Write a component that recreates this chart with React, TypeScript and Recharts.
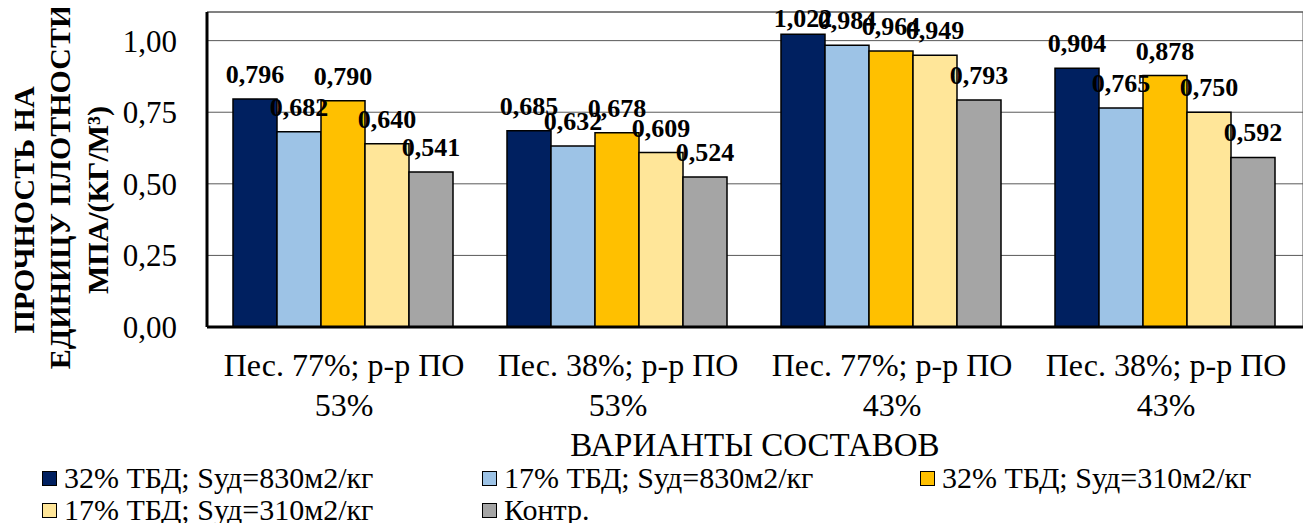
import { Bar, BarChart, CartesianGrid, LabelList, ReferenceArea, XAxis, YAxis } from 'recharts'

const categories = ['Пес. 77%; р-р ПО\n53%', 'Пес. 38%; р-р ПО\n53%', 'Пес. 77%; р-р ПО\n43%', 'Пес. 38%; р-р ПО\n43%']
const seriesNames = ['32% ТБД; Sуд=830м2/кг', '17% ТБД; Sуд=830м2/кг', '32% ТБД; Sуд=310м2/кг', '17% ТБД; Sуд=310м2/кг', 'Контр.']
const seriesColors = ['#002060', '#9DC3E6', '#FFC000', '#FFE699', '#A5A5A5']
const tbd32s830 = [0.796, 0.685, 1.022, 0.904]
const tbd17s830 = [0.682, 0.632, 0.984, 0.765]
const tbd32s310 = [0.79, 0.678, 0.964, 0.878]
const tbd17s310 = [0.64, 0.609, 0.949, 0.75]
const control = [0.541, 0.524, 0.793, 0.592]
const yTicks = [0, 0.25, 0.5, 0.75, 1]
const yTitle = ['ПРОЧНОСТЬ НА', 'ЕДИНИЦУ ПЛОТНОСТИ', 'МПА/(КГ/М³)']
const xTitle = 'ВАРИАНТЫ СОСТАВОВ'

const series = [tbd32s830, tbd17s830, tbd32s310, tbd17s310, control]
const data = categories.map((name, i) => {
  const row: Record<string, string | number> = { name }
  series.forEach((values, k) => { row['s' + k] = values[i] })
  return row
})

const FONT = '"Times New Roman", Tinos, "Liberation Serif", "Noto Serif", "DejaVu Serif", serif'
const fmt = (v: number, d: number) => v.toFixed(d).replace('.', ',')

function CategoryTick({ x, y, payload }: any) {
  const lines = String(payload.value).split('\n')
  return (
    <g>
      {lines.map((line, i) => (
        <text key={i} x={x} y={y + 38 + i * 40} textAnchor="middle" dominantBaseline="central" style={{ fontFamily: FONT, fontSize: 32 }} fill="#000">{line}</text>
      ))}
    </g>
  )
}

function ValueLabel({ x, y, width, value }: any) {
  // keep the top labels inside the chart, as the reference does
  const base = Math.max(y - 16, 27)
  return <text x={x + width / 2} y={base} textAnchor="middle" style={{ fontFamily: FONT, fontWeight: 'bold', fontSize: 26 }} fill="#000">{fmt(Number(value), 3)}</text>
}

function YTitle() {
  const xs = [23, 59, 97]
  const cys = [210, 187, 200]
  return (
    <g>
      {yTitle.map((line, i) => (
        <text key={i} x={xs[i]} y={cys[i]} transform={`rotate(-90, ${xs[i]}, ${cys[i]})`} textAnchor="middle" dominantBaseline="central" style={{ fontFamily: FONT, fontWeight: 'bold', fontSize: 30 }} fill="#000">{line}</text>
      ))}
    </g>
  )
}

export default function App() {
  return (
    <div style={{ position: 'relative', width: 1311, height: 531, margin: -8, background: '#fff', fontFamily: FONT }}>
      <BarChart width={1311} height={531} data={data} margin={{ top: 12, right: 8, bottom: 0, left: 0 }} barCategoryGap={26} barGap={0}>
        <CartesianGrid vertical={false} stroke="#595959" strokeWidth={1} />
        <ReferenceArea y1={0} y2={1.1} fill="none" stroke="#595959" strokeWidth={1} />
        <XAxis dataKey="name" height={204} tickLine={false} tickSize={0} tickMargin={0} interval={0} axisLine={{ stroke: '#000', strokeWidth: 3 }} tick={<CategoryTick />}
          label={{ content: ({ viewBox }: any) => <text x={viewBox.x + viewBox.width / 2} y={viewBox.y + 118} textAnchor="middle" dominantBaseline="central" style={{ fontFamily: FONT, fontSize: 33 }} fill="#000">{xTitle}</text> }} />
        <YAxis width={207} domain={[0, 1.1]} ticks={yTicks} tickLine={false} tickSize={0} tickMargin={30} axisLine={{ stroke: '#000', strokeWidth: 3 }} tickFormatter={(v: number) => fmt(v, 2)}
          tick={{ fill: '#000', fontSize: 31, fontFamily: FONT }} label={{ content: () => <YTitle /> }} />
        {seriesNames.map((name, k) => (
          <Bar key={name} dataKey={'s' + k} name={name} fill={seriesColors[k]} stroke="#000" strokeWidth={1.5} isAnimationActive={false}>
            <LabelList dataKey={'s' + k} content={<ValueLabel />} />
          </Bar>
        ))}
      </BarChart>
      {seriesNames.map((name, k) => {
        const col = k < 3 ? k : k - 3
        const row = k < 3 ? 0 : 1
        return (
          <div key={name} style={{ position: 'absolute', left: [42, 482, 920][col], top: 478 + row * 32 - 17, height: 34, display: 'flex', alignItems: 'center', fontSize: 30, color: '#000', whiteSpace: 'nowrap' }}>
            <span style={{ display: 'inline-block', width: 13, height: 13, background: seriesColors[k], border: '1.5px solid #000', marginRight: 7 }} />
            {name}
          </div>
        )
      })}
    </div>
  )
}
